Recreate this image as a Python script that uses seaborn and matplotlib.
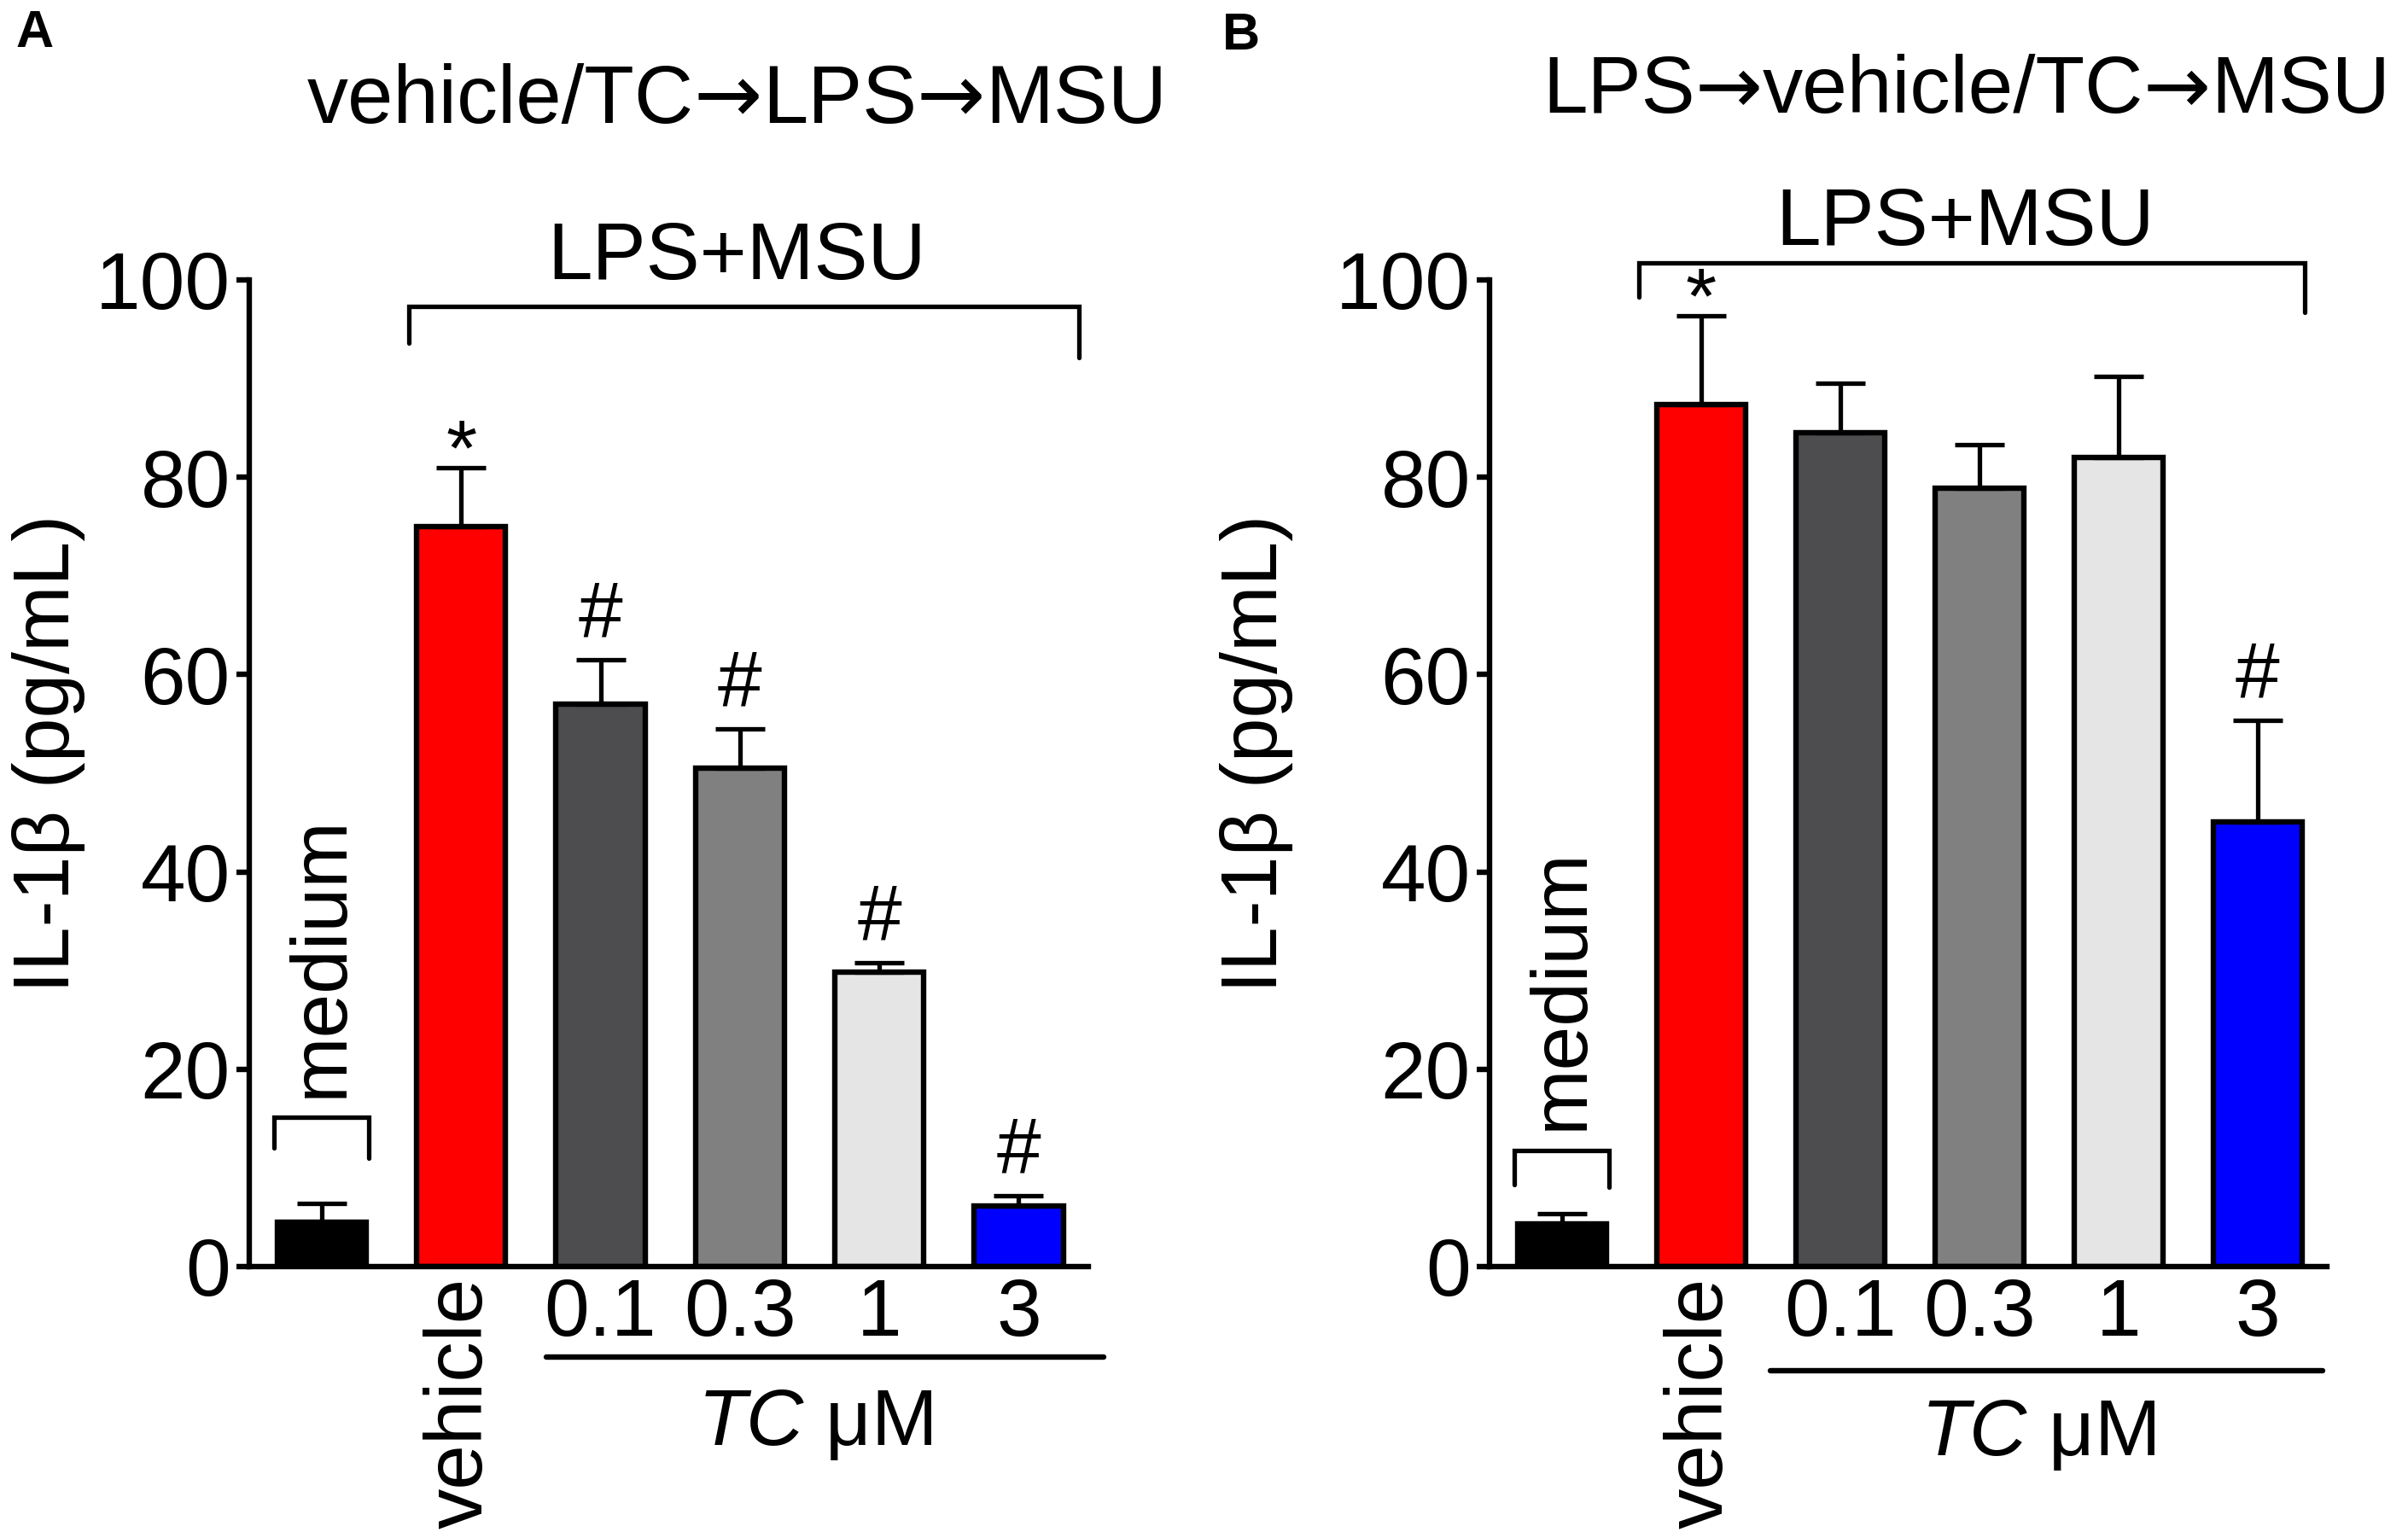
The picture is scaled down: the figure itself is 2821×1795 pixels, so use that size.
import numpy as np
import pandas as pd
import matplotlib
matplotlib.use("Agg")
import matplotlib.pyplot as plt
import seaborn as sns

# values (IL-1b, pg/mL; upper SEM only)
groups = ["medium", "vehicle", "0.1", "0.3", "1", "3"]
tick_labels = ["", "vehicle", "0.1", "0.3", "1", "3"]
bar_colors = ["#000000", "#ff0000", "#4d4c4e", "#808080", "#e5e5e5", "#0000ff"]

a_mean = [4.5, 75.0, 57.0, 50.5, 29.8, 6.1]
a_err = [1.9, 6.0, 4.5, 4.0, 1.0, 1.1]
a_marks = ["", "*", "#", "#", "#", "#"]

b_mean = [4.3, 87.4, 84.5, 78.9, 82.0, 45.1]
b_err = [1.1, 9.0, 5.0, 4.4, 8.2, 10.3]
b_marks = ["", "*", "", "", "", "#"]

sns.set_style("ticks")
plt.rcParams["font.family"] = ["Liberation Sans", "DejaVu Sans"]
plt.rcParams["mathtext.fontset"] = "custom"
plt.rcParams["mathtext.it"] = "Liberation Sans:italic"
plt.rcParams["mathtext.rm"] = "Liberation Sans"
for k in ("text.color", "axes.labelcolor", "xtick.color", "ytick.color", "axes.edgecolor"):
    plt.rcParams[k] = "black"

FS = 67
LW = 4.6

fig = plt.figure(figsize=(28.21, 17.95), dpi=100)


def panel(ax, means, errs, marks, medium_br, lps_br, tc_line, tc_y):
    df = pd.DataFrame({"group": groups, "val": means})
    sns.barplot(data=df, x="group", y="val", hue="group", order=groups,
                palette=bar_colors, saturation=1, edgecolor="black", linewidth=LW,
                width=0.64, errorbar=None, legend=False, ax=ax, zorder=2)
    x = np.arange(len(groups))
    ax.errorbar(x, means, yerr=[np.zeros(len(errs)), errs], fmt="none",
                ecolor="black", elinewidth=3.8, capsize=21, capthick=3.8, zorder=3)

    for xi, m, e, s in zip(x, means, errs, marks):
        if s == "*":
            ax.annotate(s, (xi, m + e), xytext=(0, -6), textcoords="offset points",
                        ha="center", va="baseline", fontsize=FS, annotation_clip=False)
        elif s == "#":
            ax.annotate(s, (xi, m + e), xytext=(0, 19), textcoords="offset points",
                        ha="center", va="baseline", fontsize=FS, annotation_clip=False)

    # medium bracket + label
    top, leg_l, leg_r = medium_br
    ax.plot([-0.34, -0.34, 0.34, 0.34], [leg_l, top, top, leg_r], color="black",
            lw=3.8, clip_on=False, solid_joinstyle="miter")
    ax.text(0, top + 2.0, "medium", rotation=90, ha="center", va="bottom", fontsize=FS)

    # LPS+MSU bracket
    x0, x1, top, leg_l, leg_r, txt_y = lps_br
    ax.plot([x0, x0, x1, x1], [leg_l, top, top, leg_r], color="black",
            lw=3.8, clip_on=False, solid_joinstyle="miter")
    ax.text((x0 + x1) / 2 - 0.05, txt_y, "LPS+MSU", ha="center", va="baseline",
            fontsize=FS + 1)

    # TC concentration underline
    tr = ax.get_xaxis_transform()
    ax.plot(tc_line[:2], [tc_line[2]] * 2, color="black", lw=4.6,
            transform=tr, clip_on=False)
    ax.text(tc_y[0], tc_y[1], r"$\mathit{TC}$ μM", transform=tr, ha="center",
            va="baseline", fontsize=FS)

    ax.set_ylim(0, 100)
    ax.set_xlim(-0.52, 5.5)
    ax.set_yticks([0, 20, 40, 60, 80, 100])
    ax.set_xticks(x)
    ax.set_xticklabels(tick_labels)
    ax.get_xticklabels()[1].set_rotation(90)
    for lab in ax.get_xticklabels():
        lab.set_verticalalignment("top")
    ax.tick_params(axis="y", length=11, width=LW, labelsize=FS + 1, pad=5)
    ax.tick_params(axis="x", length=0, labelsize=FS + 1, pad=9)
    ax.set_xlabel("")
    ax.set_ylabel("IL-1β (pg/mL)", fontsize=FS)
    sns.despine(ax=ax)
    for sp in ("left", "bottom"):
        ax.spines[sp].set_linewidth(LW)


ax_a = fig.add_axes([0.1035, 0.1733, 0.3485, 0.644])
panel(ax_a, a_mean, a_err, a_marks,
      medium_br=(15.1, 12.0, 11.0),
      lps_br=(0.625, 5.43, 97.3, 93.6, 92.1, 100.1),
      tc_line=(1.61, 5.61, -0.092), tc_y=(3.54, -0.181))
ax_a.yaxis.set_label_coords(-0.195, 0.52)

ax_b = fig.add_axes([0.6186, 0.1733, 0.3478, 0.644])
panel(ax_b, b_mean, b_err, b_marks,
      medium_br=(11.8, 8.3, 8.0),
      lps_br=(0.556, 5.34, 101.7, 98.3, 96.7, 103.5),
      tc_line=(1.50, 5.47, -0.1055), tc_y=(3.42, -0.191))
ax_b.yaxis.set_label_coords(-0.235, 0.52)

arrow_fam = ["DejaVu Sans"]
title_a = ["vehicle/TC", "→", "LPS", "→", "MSU"]
title_b = ["LPS", "→", "vehicle/TC", "→", "MSU"]


def draw_title(parts, xc, y, size):
    # draw the pieces one after another so the arrows can use DejaVu
    rend = fig.canvas.get_renderer()
    texts = []
    for p in parts:
        fam = arrow_fam if p == "→" else ["Liberation Sans"]
        t = fig.text(0, y, p, ha="left", va="baseline", fontsize=size, family=fam)
        texts.append(t)
    widths = [t.get_window_extent(rend).width for t in texts]
    total = sum(widths)
    x = xc * fig.bbox.width - total / 2
    for t, w in zip(texts, widths):
        t.set_x(x / fig.bbox.width)
        x += w


draw_title(title_a, 0.306, 0.920, 69)
draw_title(title_b, 0.8165, 0.9265, 68)
fig.text(0.0064, 0.994, "A", ha="left", va="top", fontsize=44, fontweight="bold")
fig.text(0.5076, 0.992, "B", ha="left", va="top", fontsize=44, fontweight="bold")

fig.savefig("out.png", dpi=100, facecolor="white")
